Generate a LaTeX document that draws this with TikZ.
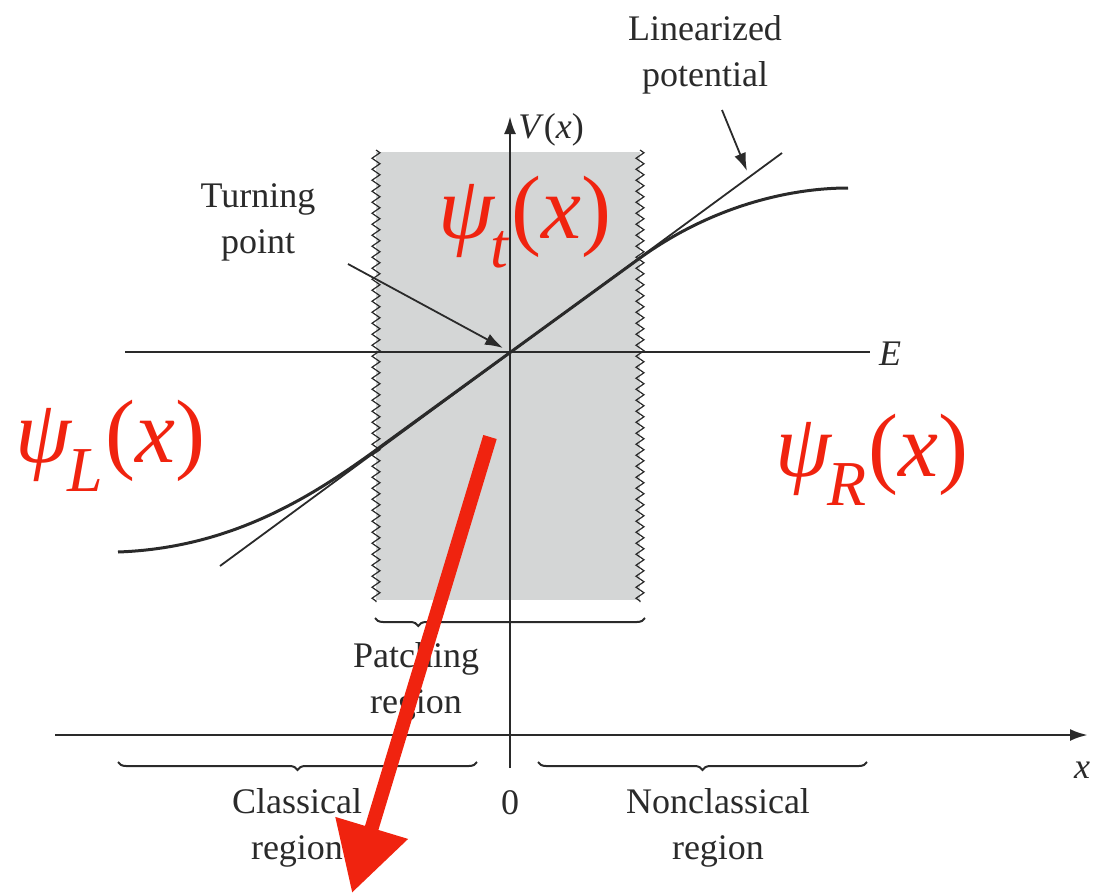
\documentclass[tikz,border=0pt]{standalone}
\usepackage{fontspec}
\setmainfont{Liberation Serif}
\usetikzlibrary{arrows.meta,decorations.pathmorphing,decorations.pathreplacing}
\definecolor{patch}{HTML}{D4D6D6}
\definecolor{ink}{HTML}{2A2A2A}
\definecolor{redlab}{HTML}{F0230F}
\newcommand\psilbl[1]{\textit{ψ}\kern-0.05em\raisebox{-0.32em}{\fontsize{32}{34}\selectfont\textit{#1}}\kern0.02em(\textit{x})}
\begin{document}
\begin{tikzpicture}[x={(0.5pt,0pt)},y={(0pt,-0.5pt)},
  lab/.style={font=\fontsize{18}{23}\selectfont, text=ink, align=center, inner sep=0pt},
  psilab/.style={font=\fontsize{45}{48}\selectfont, text=redlab, inner sep=0pt},
  axis/.style={draw=ink, line width=1.4pt, -{Latex[length=9pt,width=6pt]}},
  wavy/.style={draw=ink, line width=0.6pt, decorate, decoration={zigzag, segment length=5.5pt, amplitude=2pt}},
  bracel/.style={draw=ink, line width=1pt, decorate, decoration={brace, amplitude=4pt}},
  pot/.style={draw=ink, line width=1.5pt},
  thin/.style={draw=ink, line width=0.9pt},
  lblarrow/.style={draw=ink, line width=0.9pt, -{Latex[length=9pt,width=6pt]}}]
\useasboundingbox (0,0) rectangle (1094,894);
% patching region
\fill[patch] (376,152) rectangle (640,600);
\draw[wavy] (376,150) -- (376,602);
\draw[wavy] (640,150) -- (640,602);
% axes
\coordinate (xs) at (55,735);
\coordinate (xe) at (1088,735);
\coordinate (vs) at (510,768);
\coordinate (ve) at (510,116);
\draw[axis] (xs) -- (xe);
\draw[axis] (vs) -- (ve);
% energy line
\coordinate (es) at (125,352);
\coordinate (ee) at (870,352);
\draw[thin] (es) -- (ee);
\node[lab, font=\fontsize{18}{23}\selectfont\itshape] (E) at (890,354) {E};
% turning point
\coordinate (tp) at (510,352);
% linearized potential
\coordinate (ls) at (220,566);
\coordinate (le) at (782,153);
\draw[thin] (ls) -- (le);
% potential
\draw[pot] (118,552) .. controls (230,548) and (310,498) .. (376,450) -- (640,258)
  .. controls (712,206) and (790,188) .. (848,188);
% labels
\node[lab] (lin) at (705,55) {Linearized\\potential};
\coordinate (lintip) at (747,171);
\draw[lblarrow] (722,110) -- (lintip);
\node[lab] (turn) at (258,222) {Turning\\point};
\draw[lblarrow] (348,264) -- (503,348);
\node[lab, anchor=west] (V) at (518,130) {\textit{V}(\textit{x})};
\node[lab, font=\fontsize{18}{23}\selectfont\itshape] (xl) at (1082,770) {x};
\node[lab] (zero) at (510,803) {0};
% braces
\draw[bracel, decoration={brace, amplitude=4pt, aspect=0.84}] (645,618) -- (375,618);
\node[lab] (patchlab) at (416,682) {Patching\\region};
\draw[bracel, decoration={brace, amplitude=4pt, aspect=0.5}] (477,762) -- (118,762);
\node[lab] (classlab) at (297,828) {Classical\\region};
\draw[bracel, decoration={brace, amplitude=4pt, aspect=0.5}] (867,762) -- (538,762);
\node[lab] (nonclasslab) at (718,828) {Nonclassical\\region};
% red labels
\node[psilab] (psit) at (525,222) {\psilbl{t}};
\node[psilab] (psiL) at (110,446) {\psilbl{L}};
\node[psilab] (psiR) at (872,460) {\psilbl{R}};
% red arrow
\coordinate (ra) at (490,437);
\coordinate (rb) at (352,893);
\draw[draw=redlab, line width=7pt, -{Triangle[length=34pt,width=36pt]}, fill=redlab] (ra) -- (rb);
\end{tikzpicture}
\end{document}
